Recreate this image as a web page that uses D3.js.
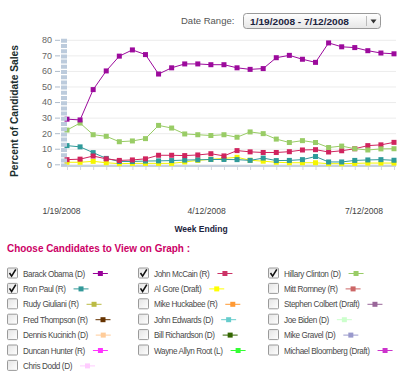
<!DOCTYPE html>
<meta charset="utf-8">
<html>
<head>
<title>Candidate Sales</title>
<script src="https://cdn.jsdelivr.net/npm/d3@7"></script>
<style type="text/css">
    body{ margin:0; background:#fff; }
    text{ font-family: "Liberation Sans", Arial, sans-serif; }
</style>
</head>
<body>
<script type="text/javascript">
// weekly data, week ending 1/19/2008 .. 7/12/2008
var startDate = new Date(2008, 0, 19)
var endDate = new Date(2008, 6, 12)
var weeks = d3.timeWeek.every(1).range(new Date(2008, 0, 13), new Date(2008, 6, 13)).map(d=>d3.timeDay.offset(d, 6))
var dateLabels = ["1/19/2008", "4/12/2008", "7/12/2008"]
var yTicks = [0, 10, 20, 30, 40, 50, 60, 70, 80]

var obama   = [29, 28.5, 48, 60, 69.5, 73.5, 70.5, 58, 62, 64.5, 64.5, 64, 64, 62, 61, 61.5, 68.5, 70, 67.5, 65.5, 78, 75.5, 75, 73, 71.5, 71]
var clinton = [22, 26.5, 19, 18, 14.5, 15, 16.5, 25, 23.3, 19.5, 19, 18.5, 19, 17.4, 20.8, 19.7, 16.2, 14, 15.2, 14, 10.8, 11.7, 10, 9.2, 9.9, 10]
var mccain  = [3, 3.3, 5.3, 3.5, 2.5, 2.8, 3.5, 5.8, 5.8, 5.6, 6, 6.8, 5.4, 8.8, 8, 7.6, 7.6, 8.1, 9.2, 9.4, 7.9, 8.7, 10, 12, 12.5, 14.1]
var paul    = [12, 11.2, 7.5, 3.8, 1.8, 1.8, 2.1, 2.2, 2.4, 2.7, 2.9, 3.1, 3.1, 3, 2.5, 4, 2.4, 2.5, 3, 5, 1.5, 1.5, 2.5, 2.8, 3, 2.6]
var gore    = [1.3, 1.3, 1.9, 1, 0.4, 0.6, 0.6, 0.6, 0.6, 1.5, 2.5, 3.2, 3.8, 4.5, 2.6, 2, 1.3, 1, 1, 1, 0.4, 0.4, 0.6, 0.8, 0.8, 0.8]

var plotted = [
    {name:"Al Gore", values:gore, color:"#f5f500"},
    {name:"Ron Paul", values:paul, color:"#2f9a9a"},
    {name:"John McCain", values:mccain, color:"#d0245e"},
    {name:"Hillary Clinton", values:clinton, color:"#99cc66"},
    {name:"Barack Obama", values:obama, color:"#9c0a9c"}
]

var candidates = ["Barack Obama (D)", "Ron Paul (R)", "Rudy Giuliani (R)", "Fred Thompson (R)", "Dennis Kucinich (D)", "Duncan Hunter (R)", "Chris Dodd (D)",
    "John McCain (R)", "Al Gore (Draft)", "Mike Huckabee (R)", "John Edwards (D)", "Bill Richardson (D)", "Wayne Allyn Root (L)",
    "Hillary Clinton (D)", "Mitt Romney (R)", "Stephen Colbert (Draft)", "Joe Biden (D)", "Mike Gravel (D)", "Michael Bloomberg (Draft)"]
var candColors = ["#990099", "#339999", "#bbbb44", "#663300", "#ffcc99", "#ff33ff", "#ffccff",
    "#cc3366", "#ffff00", "#ff9933", "#66cccc", "#336600", "#33ff33",
    "#99cc66", "#cc6666", "#996699", "#ccffcc", "#9999cc", "#cc33cc"]
var checked = [true, true, false, false, false, false, false,
    true, true, false, false, false, false,
    true, false, false, false, false, false]
var columnSizes = [7, 6, 6]

var svg = d3.select("body").append("svg")
    .attr("width", 400)
    .attr("height", 387)

var x = d3.scaleTime().domain([startDate, endDate]).range([67, 394])
var xLabel = d3.scaleTime().domain([startDate, endDate]).range([61.5, 364])
var y = d3.scaleLinear().domain([0, 80]).range([164.3, 39.8])

// date range box
svg.append("text").attr("x", 181).attr("y", 24).text("Date Range:")
    .style("font-size", "9.5px").style("fill", "#555")
var grad = svg.append("defs").append("linearGradient").attr("id", "boxg").attr("x1", 0).attr("x2", 0).attr("y1", 0).attr("y2", 1)
grad.append("stop").attr("offset", "0%").attr("stop-color", "#ffffff")
grad.append("stop").attr("offset", "100%").attr("stop-color", "#e6e6e6")
svg.append("rect").attr("x", 243.5).attr("y", 13.5).attr("width", 137).attr("height", 15).attr("rx", 3)
    .style("fill", "url(#boxg)").style("stroke", "#999")
svg.append("text").attr("x", 250).attr("y", 24.5).text("1/19/2008 - 7/12/2008")
    .attr("textLength", 99).attr("lengthAdjust", "spacingAndGlyphs")
    .style("font-size", "9px").style("font-weight", "bold").style("fill", "#1c2440")
svg.append("line").attr("x1", 366.5).attr("x2", 366.5).attr("y1", 16).attr("y2", 26).style("stroke", "#bbb")
svg.append("path").attr("d", "M370.5,19.5 L376.5,19.5 L373.5,23.5 Z").style("fill", "#333")

// gridlines
svg.append("g")
    .attr("transform", "translate(67,0)")
    .call(d3.axisLeft(y).tickValues(yTicks).tickSize(-329).tickFormat(""))
    .call(g=>g.select(".domain").remove())
    .call(g=>g.selectAll("line").style("stroke", "#ececec"))

// y axis
svg.append("g")
    .attr("transform", "translate(60,0)")
    .call(d3.axisLeft(y).tickValues(yTicks).tickSize(5).tickPadding(3))
    .call(g=>g.select(".domain").remove())
    .call(g=>g.selectAll("line").style("stroke", "#b0bccb"))
    .call(g=>g.selectAll("text").style("font-size", "9px").style("fill", "#666").style("font-family", "Liberation Sans, Arial, sans-serif"))

// x axis line and ticks
svg.append("g")
    .attr("transform", "translate(0,166)")
    .call(d3.axisBottom(x).tickValues(weeks).tickSize(4).tickFormat(""))
    .call(g=>g.select(".domain").remove())
    .call(g=>g.selectAll("line").style("stroke", "#d4d8de"))
svg.append("line").attr("x1", 61).attr("x2", 396).attr("y1", 166).attr("y2", 166)
    .style("stroke", "#c8d2de").style("stroke-width", 2)

// date labels
svg.selectAll("text.dlabel")
    .data(dateLabels)
    .enter()
    .append("text")
    .attr("class", "dlabel")
    .attr("x", d=>xLabel(d3.timeParse("%m/%d/%Y")(d)))
    .attr("y", 214)
    .attr("text-anchor", "middle")
    .text(d=>d)
    .style("font-size", "8.6px").style("fill", "#444")

svg.append("text").attr("x", 201).attr("y", 232).attr("text-anchor", "middle").text("Week Ending")
    .style("font-size", "8.5px").style("font-weight", "bold").style("fill", "#1c2440")

svg.append("text")
    .attr("transform", "translate(18,111) rotate(-90)")
    .attr("text-anchor", "middle")
    .attr("textLength", 132).attr("lengthAdjust", "spacingAndGlyphs")
    .text("Percent of Candidate Sales")
    .style("font-size", "10.5px").style("font-weight", "bold").style("fill", "#1a2e2e")

// series
var line = d3.line().x((d,i)=>x(weeks[i])).y(d=>y(d))
var series = svg.selectAll("g.series")
    .data(plotted)
    .enter()
    .append("g")
    .attr("class", "series")
series.append("path")
    .attr("d", d=>line(d.values))
    .style("fill", "none")
    .style("stroke", d=>d.color)
    .style("stroke-width", 1)
series.selectAll("rect")
    .data(d=>d.values.map((v,i)=>({v:v, i:i, color:d.color})))
    .enter()
    .append("rect")
    .attr("x", d=>x(weeks[d.i]) - 2.5)
    .attr("y", d=>y(d.v) - 2.5)
    .attr("width", 5)
    .attr("height", 5)
    .style("fill", d=>d.color)

// checkered bar, drawn over the first points
svg.append("line").attr("x1", 64).attr("x2", 64).attr("y1", y(80) - 1).attr("y2", y(0) + 2)
    .style("stroke", "#bccbdc").style("stroke-width", 6).style("stroke-dasharray", "4,1.2")

// candidate chooser
svg.append("text").attr("x", 7).attr("y", 252).text("Choose Candidates to View on Graph :")
    .attr("textLength", 183).attr("lengthAdjust", "spacingAndGlyphs")
    .style("font-size", "11px").style("font-weight", "bold").style("fill", "#cc0066")

var cbg = svg.select("defs").append("linearGradient").attr("id", "cbg").attr("x1", 0).attr("x2", 1).attr("y1", 0).attr("y2", 1)
cbg.append("stop").attr("offset", "0%").attr("stop-color", "#e4e4e4")
cbg.append("stop").attr("offset", "100%").attr("stop-color", "#ffffff")

var colX = [7, 138, 268]
var items = candidates.map((c,i)=>{
    var col = i < columnSizes[0] ? 0 : (i < columnSizes[0] + columnSizes[1] ? 1 : 2)
    var row = col == 0 ? i : (col == 1 ? i - columnSizes[0] : i - columnSizes[0] - columnSizes[1])
    return {name:c, color:candColors[i], checked:checked[i], col:col, row:row}
})

var item = svg.selectAll("g.cand")
    .data(items)
    .enter()
    .append("g")
    .attr("class", "cand")
    .attr("transform", d=>"translate(" + colX[d.col] + "," + (273.5 + d.row * 15.4) + ")")

item.append("rect")
    .attr("x", 0.5).attr("y", -5.5).attr("width", 10).attr("height", 10).attr("rx", 1)
    .style("fill", "url(#cbg)").style("stroke", "#9a9a9a")
item.filter(d=>d.checked).append("path")
    .attr("d", "M2.5,-0.5 L4.6,2.6 L8.8,-4.2")
    .style("fill", "none").style("stroke", "#111").style("stroke-width", 1.6)

item.append("text")
    .attr("x", 16).attr("y", 3)
    .text(d=>d.name)
    .style("font-size", "8.2px").style("letter-spacing", "-0.4px").style("fill", "#4a4a4a")

item.each(function(d){
    var g = d3.select(this)
    var w = g.select("text").node().getComputedTextLength()
    var sx = 16 + w + 8
    g.append("line").attr("x1", sx).attr("x2", sx + 15).attr("y1", 0).attr("y2", 0)
        .style("stroke", d.color).style("stroke-width", 1)
    g.append("rect").attr("x", sx + 5).attr("y", -2.5).attr("width", 5).attr("height", 5)
        .style("fill", d.color)
})
</script>
</body>
</html>
